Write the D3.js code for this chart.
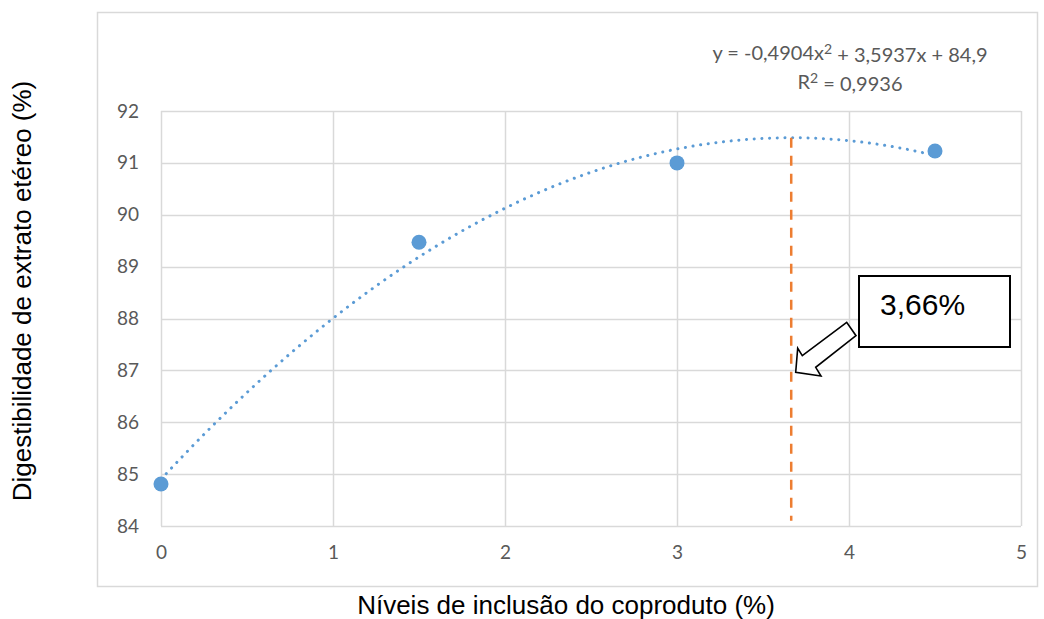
<!DOCTYPE html>
<html>
<head>
<meta charset="utf-8">
<script src="https://cdn.jsdelivr.net/npm/d3@7"></script>
<style>
  html, body { margin: 0; padding: 0; background: #fff; }
  svg { display: block; }
</style>
</head>
<body>
<svg id="chart" width="1044" height="619"></svg>
<script>
// Inclusion levels of the co-product (%) and ether extract digestibility (%)
const levels = [0, 1.5, 3, 4.5];
const digestibility = [84.81, 89.47, 91.0, 91.23];

// Polynomial trendline coefficients: y = a·x² + b·x + c
const coefA = -0.4904;
const coefB = 3.5937;
const coefC = 84.9;
const rSquaredLabel = "0,9936";

// Axis ticks
const xTicks = [0, 1, 2, 3, 4, 5];
const yTicks = [84, 85, 86, 87, 88, 89, 90, 91, 92];

const xTitle = "Níveis de inclusão do coproduto (%)";
const yTitle = "Digestibilidade de extrato etéreo (%)";
const optimumLabel = "3,66%";

const svg = d3.select("#chart");
const tickFont = "Lato, 'Open Sans', sans-serif";
const titleFont = "'Liberation Sans', Arial, sans-serif";
const gridColor = "#d9d9d9";
const tickColor = "#595959";
const blue = "#5b9bd5";
const orange = "#ed7d31";

// Outer chart frame
svg.append("rect")
  .attr("x", 97.5).attr("y", 12.5)
  .attr("width", 940).attr("height", 574)
  .attr("fill", "#fff").attr("stroke", gridColor).attr("stroke-width", 1.5);

const x = d3.scaleLinear().domain([0, 5]).range([161, 1021]);
const y = d3.scaleLinear().domain([84, 92]).range([526, 111]);

// Gridlines
svg.append("g").selectAll("line.h").data(yTicks).join("line")
  .attr("x1", x(0)).attr("x2", x(5))
  .attr("y1", d => Math.round(y(d)) + 0.5).attr("y2", d => Math.round(y(d)) + 0.5)
  .attr("stroke", gridColor).attr("stroke-width", 1.5);
svg.append("g").selectAll("line.v").data(xTicks).join("line")
  .attr("y1", y(84)).attr("y2", y(92))
  .attr("x1", d => Math.round(x(d)) + 0.5).attr("x2", d => Math.round(x(d)) + 0.5)
  .attr("stroke", gridColor).attr("stroke-width", 1.5);

// Tick labels via d3 axes with the domain line and ticks hidden
const yAxis = svg.append("g")
  .attr("transform", `translate(${x(0)},0)`)
  .call(d3.axisLeft(y).tickValues(yTicks).tickSize(0).tickPadding(22).tickFormat(d3.format("d")));
const xAxis = svg.append("g")
  .attr("transform", `translate(0,${y(84)})`)
  .call(d3.axisBottom(x).tickValues(xTicks).tickSize(0).tickPadding(20).tickFormat(d3.format("d")));
[yAxis, xAxis].forEach(g => {
  g.select(".domain").remove();
  g.selectAll("text")
    .attr("fill", tickColor)
    .style("font-family", tickFont)
    .style("font-size", "19px");
});

// Trendline drawn from the fitted polynomial over the observed range
const poly = v => coefA * v * v + coefB * v + coefC;
const trendX = d3.range(0, 4.5 + 1e-9, 0.02);
svg.append("path")
  .datum(trendX)
  .attr("d", d3.line().x(d => x(d)).y(d => y(poly(d))))
  .attr("fill", "none")
  .attr("stroke", blue)
  .attr("stroke-width", 3)
  .attr("stroke-linecap", "round")
  .attr("stroke-dasharray", "0.1 7.6");

// Optimum inclusion level (vertex of the polynomial)
const optimum = -coefB / (2 * coefA);
svg.append("line")
  .attr("x1", x(optimum)).attr("x2", x(optimum))
  .attr("y1", y(poly(optimum))).attr("y2", y(84.1))
  .attr("stroke", orange).attr("stroke-width", 2.5)
  .attr("stroke-dasharray", "10 8");

// Observed points
svg.append("g").selectAll("circle").data(levels).join("circle")
  .attr("cx", d => x(d))
  .attr("cy", (d, i) => y(digestibility[i]))
  .attr("r", 7.5)
  .attr("fill", blue);

// Trendline equation, centred above the right part of the plot
const eqCenter = 850;
const eq = svg.append("g")
  .style("font-family", tickFont)
  .style("font-size", "20px")
  .attr("fill", tickColor)
  .attr("text-anchor", "middle");
const fmt = v => String(Math.abs(v)).replace(".", ",");
const eqText = eq.append("text").attr("x", eqCenter).attr("y", 60);
eqText.append("tspan").text(`y = -${fmt(coefA)}x`);
eqText.append("tspan").attr("dy", "-0.4em").style("font-size", "14px").text("2");
eqText.append("tspan").attr("dy", "0.4em").text(` + ${fmt(coefB)}x + ${fmt(coefC)}`);
const r2Text = eq.append("text").attr("x", eqCenter).attr("y", 89);
r2Text.append("tspan").text("R");
r2Text.append("tspan").attr("dy", "-0.4em").style("font-size", "14px").text("2");
r2Text.append("tspan").attr("dy", "0.4em").text(` = ${rSquaredLabel}`);

// Callout box with arrow pointing at the optimum line
svg.append("polygon")
  .attr("points", [
    [846.7, 322.3], [802.3, 355.7], [797.7, 348.3], [795.7, 372.3],
    [821, 376], [815.7, 367.3], [856, 335.7]
  ].map(p => p.join(",")).join(" "))
  .attr("fill", "#fff").attr("stroke", "#000").attr("stroke-width", 1.6)
  .attr("stroke-linejoin", "miter");
svg.append("rect")
  .attr("x", 859).attr("y", 276)
  .attr("width", 151).attr("height", 71)
  .attr("fill", "#fff").attr("stroke", "#000").attr("stroke-width", 2);
svg.append("text")
  .attr("x", 880).attr("y", 315)
  .style("font-family", titleFont).style("font-size", "30px")
  .attr("fill", "#000")
  .text(optimumLabel);

// Axis titles
svg.append("text")
  .attr("x", 566).attr("y", 614)
  .attr("text-anchor", "middle")
  .style("font-family", titleFont).style("font-size", "26px")
  .attr("fill", "#000")
  .text(xTitle);
svg.append("text")
  .attr("transform", "translate(31,291) rotate(-90)")
  .attr("text-anchor", "middle")
  .style("font-family", titleFont).style("font-size", "26px")
  .attr("fill", "#000")
  .text(yTitle);
</script>
</body>
</html>
